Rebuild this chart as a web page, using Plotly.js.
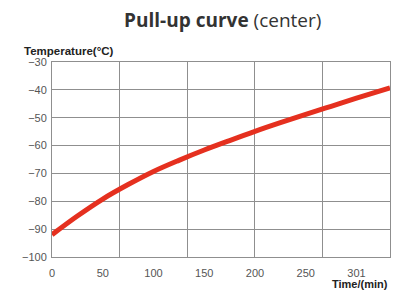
<!DOCTYPE html>
<html>
<head>
<meta charset="utf-8">
<script src="https://cdn.plot.ly/plotly-3.0.1.min.js"></script>
<style>html,body{margin:0;padding:0;background:#fff;}#chart{width:405px;height:290px;}</style>
</head>
<body>
<div id="chart"></div>
<script>
// Time (min) and temperature (°C)
const timeMin = [0, 25, 50, 75, 100, 125, 150, 175, 200, 225, 250, 275, 300, 333];
const tempC = [-92, -85.3, -79.2, -74.0, -69.3, -65.3, -61.6, -58.2, -54.9, -51.8, -48.8, -45.9, -43.0, -39.3];
// X tick positions and their printed labels (the reference prints "301")
const xTickVals = [0, 50, 100, 150, 200, 250, 300];
const xTickText = ["0", "50", "100", "150", "200", "250", "301"];
// Vertical grid lines split the time range in five equal parts
const xRange = [0, 333];
const xGridVals = [0, 66.6, 133.2, 199.8, 266.4, 333];
const yTickVals = [-100, -90, -80, -70, -60, -50, -40, -30];

const gridColor = '#8f8f8f';
const tickFont = {family: 'Liberation Sans, Arial, sans-serif', size: 11, color: '#555'};

const trace = {
  x: timeMin, y: tempC, type: 'scatter', mode: 'lines',
  line: {color: '#e5301f', width: 5, shape: 'spline'},
  hoverinfo: 'skip'
};

const layout = {
  width: 405, height: 290,
  margin: {l: 52, r: 15, t: 62, b: 33},
  paper_bgcolor: '#fff', plot_bgcolor: '#fff',
  showlegend: false,
  title: {
    text: '<b>Pull-up curve</b> (center)',
    font: {family: 'Open Sans, sans-serif', size: 19, color: '#333'},
    x: 0.55, xanchor: 'center', y: 0.93, yanchor: 'middle', yref: 'container'
  },
  xaxis: {
    range: xRange, tickvals: xTickVals, ticktext: xTickText,
    showgrid: false, zeroline: false, ticks: '', ticklabelstandoff: 6,
    showline: true, linecolor: gridColor, linewidth: 1, mirror: true,
    tickfont: tickFont,
    minor: {tickvals: xGridVals, showgrid: true, gridcolor: gridColor, gridwidth: 1, ticks: ''}
  },
  yaxis: {
    range: [-100, -30], tickvals: yTickVals,
    showgrid: true, gridcolor: gridColor, gridwidth: 1, zeroline: false, ticks: '',
    showline: true, linecolor: gridColor, linewidth: 1, mirror: true,
    tickfont: tickFont, ticklabelstandoff: 2
  },
  annotations: [
    {text: '<b>Temperature(°C)</b>', xref: 'paper', yref: 'paper', x: -0.09, y: 1.057,
     xanchor: 'left', yanchor: 'middle', showarrow: false,
     font: {family: 'Liberation Sans, Arial, sans-serif', size: 11.5, color: '#222'}},
    {text: '<b>Time/(min)</b>', xref: 'paper', yref: 'paper', x: 1.0, y: -0.138,
     xanchor: 'right', yanchor: 'middle', showarrow: false,
     font: {family: 'Liberation Sans, Arial, sans-serif', size: 11, color: '#222'}}
  ]
};

Plotly.newPlot('chart', [trace], layout, {staticPlot: true, displayModeBar: false});
</script>
</body>
</html>
